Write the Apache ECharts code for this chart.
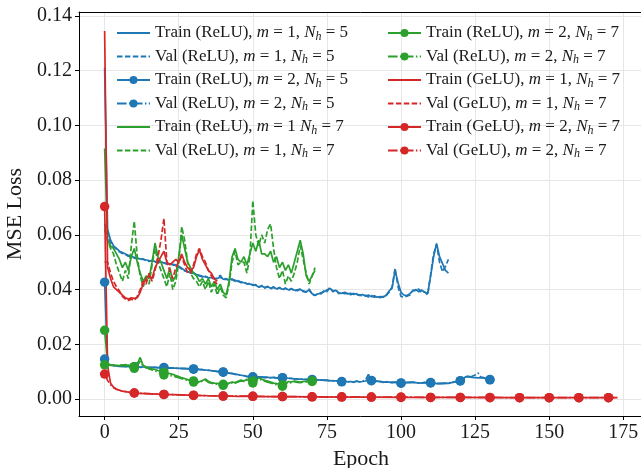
<!DOCTYPE html>
<html>
<head>
<meta charset="utf-8">
<script src="https://cdn.jsdelivr.net/npm/echarts@6/dist/echarts.min.js"></script>
<style>
  html, body { margin: 0; padding: 0; background: #fff; }
  #chart { width: 641px; height: 468px; }
</style>
</head>
<body>
<div id="chart"></div>
<script>
// ---- loss curves, one value per epoch starting at epoch 0 ----
const reluM1N5Train = [0.121,0.062,0.058,0.056,0.055,0.054,0.0535,0.053,0.0525,0.052,0.0518,0.0515,0.0512,0.051,0.0508,0.0506,0.0505,0.0503,0.0502,0.05,0.0498,0.0496,0.0494,0.0492,0.049,0.0485,0.0478,0.047,0.0465,0.0462,0.046,0.0455,0.0452,0.0448,0.0446,0.0444,0.0443,0.0441,0.044,0.0445,0.0438,0.0437,0.0436,0.0438,0.0434,0.043,0.0428,0.0425,0.0422,0.042,0.0418,0.0415,0.041,0.0412,0.0408,0.041,0.0405,0.0408,0.0403,0.0406,0.0401,0.0404,0.0399,0.0402,0.0398,0.0396,0.04,0.0395,0.0392,0.0398,0.0385,0.038,0.0384,0.0388,0.0392,0.0398,0.0404,0.0395,0.0397,0.0388,0.0386,0.039,0.0384,0.0386,0.0382,0.0385,0.0378,0.0382,0.0376,0.038,0.0374,0.0377,0.0372,0.0374,0.0372,0.038,0.0395,0.0405,0.047,0.0425,0.039,0.038,0.0378,0.0385,0.0395,0.04,0.0392,0.0398,0.039,0.0385,0.045,0.052,0.0568,0.052,0.0495,0.047,0.046];
const reluM1N5Val = [0.064,0.06,0.057,0.0555,0.0548,0.0538,0.0532,0.0528,0.0522,0.0519,0.0515,0.0513,0.051,0.0512,0.0505,0.0503,0.0507,0.05,0.0498,0.0502,0.0497,0.0493,0.0495,0.049,0.0487,0.0482,0.0475,0.0468,0.0466,0.0458,0.0462,0.0452,0.045,0.0446,0.0449,0.0442,0.0446,0.0438,0.0442,0.0452,0.0436,0.044,0.0433,0.0437,0.043,0.0433,0.0425,0.0428,0.042,0.0423,0.0415,0.0418,0.0408,0.0415,0.0405,0.0412,0.0402,0.041,0.04,0.0408,0.0398,0.0406,0.0396,0.0404,0.0395,0.0399,0.0402,0.0392,0.039,0.0402,0.0382,0.0378,0.0386,0.0384,0.0395,0.0392,0.0408,0.0392,0.04,0.0385,0.0389,0.0385,0.0387,0.0381,0.0386,0.038,0.0381,0.0376,0.0379,0.0373,0.0378,0.0372,0.0375,0.037,0.0375,0.0378,0.039,0.041,0.0478,0.041,0.0375,0.0372,0.0376,0.038,0.0398,0.0395,0.0402,0.0388,0.0392,0.038,0.0455,0.053,0.0565,0.05,0.0465,0.0485,0.051];

const reluM2N5Train = [0.0427,0.0128,0.0124,0.0122,0.0121,0.012,0.0119,0.0119,0.0118,0.0118,0.0118,0.0117,0.0117,0.0117,0.0116,0.0116,0.0116,0.0116,0.0115,0.0115,0.0115,0.0114,0.0114,0.0113,0.0113,0.0112,0.0112,0.0111,0.0111,0.011,0.011,0.0109,0.0108,0.0107,0.0106,0.0105,0.0104,0.0102,0.0101,0.01,0.0099,0.0097,0.0095,0.0093,0.0091,0.0089,0.0087,0.0085,0.0083,0.0082,0.0081,0.008,0.0081,0.0079,0.008,0.0079,0.0078,0.0079,0.0077,0.0078,0.0078,0.0077,0.0076,0.0075,0.0074,0.0073,0.0073,0.0072,0.0072,0.0071,0.0071,0.007,0.007,0.0069,0.0069,0.0068,0.0067,0.0066,0.0066,0.0065,0.0064,0.0065,0.0063,0.0064,0.0062,0.0065,0.0063,0.0064,0.0066,0.0072,0.0067,0.0065,0.0066,0.0063,0.0062,0.0063,0.0062,0.006,0.0062,0.0061,0.0059,0.0059,0.006,0.0062,0.0061,0.006,0.0058,0.0059,0.006,0.0059,0.006,0.0058,0.0056,0.0057,0.0056,0.0058,0.0057,0.006,0.0062,0.0064,0.0066,0.0075,0.0082,0.0081,0.0079,0.0078,0.0077,0.0078,0.0076,0.0073,0.007];
const reluM2N5Val = [0.0146,0.0127,0.0124,0.0121,0.0121,0.0119,0.012,0.0118,0.0119,0.0117,0.0117,0.0118,0.0116,0.0117,0.0115,0.0116,0.0115,0.0116,0.0114,0.0115,0.0114,0.0115,0.0113,0.0114,0.0112,0.0113,0.0111,0.0112,0.011,0.0111,0.0109,0.011,0.0107,0.0108,0.0105,0.0106,0.0103,0.0103,0.01,0.0101,0.0098,0.0098,0.0094,0.0094,0.009,0.009,0.0086,0.0086,0.0082,0.0083,0.008,0.0081,0.0079,0.0081,0.0078,0.008,0.0077,0.0079,0.0076,0.0079,0.0077,0.0078,0.0075,0.0076,0.0073,0.0074,0.0072,0.0073,0.0071,0.0072,0.007,0.0071,0.0069,0.007,0.0068,0.0069,0.0066,0.0067,0.0065,0.0066,0.0063,0.0066,0.0062,0.0065,0.0061,0.0066,0.0062,0.0066,0.0068,0.009,0.0068,0.0066,0.0064,0.0065,0.0061,0.0064,0.006,0.0062,0.0061,0.0063,0.0058,0.006,0.0061,0.006,0.0062,0.0059,0.0059,0.0058,0.0061,0.0058,0.0059,0.0057,0.0057,0.0056,0.0058,0.0057,0.0059,0.0061,0.0063,0.0065,0.0067,0.0073,0.0084,0.0082,0.0083,0.0088,0.0095,0.008,0.0078,0.0074,0.0071];

const reluM1N7Train = [0.0915,0.058,0.056,0.055,0.053,0.051,0.048,0.05,0.047,0.052,0.055,0.05,0.046,0.043,0.045,0.044,0.05,0.057,0.052,0.05,0.047,0.044,0.048,0.043,0.045,0.052,0.06,0.055,0.05,0.048,0.046,0.045,0.043,0.044,0.042,0.044,0.041,0.043,0.04,0.042,0.039,0.038,0.043,0.052,0.055,0.051,0.05,0.052,0.049,0.053,0.057,0.054,0.058,0.053,0.053,0.052,0.054,0.05,0.052,0.048,0.05,0.047,0.049,0.046,0.05,0.054,0.058,0.053,0.045,0.043,0.045,0.047];
const reluM1N7Val = [0.062,0.058,0.055,0.053,0.049,0.046,0.043,0.047,0.044,0.056,0.065,0.052,0.045,0.041,0.044,0.042,0.049,0.055,0.05,0.047,0.044,0.041,0.046,0.04,0.043,0.05,0.063,0.058,0.05,0.046,0.044,0.043,0.041,0.043,0.04,0.043,0.039,0.042,0.038,0.041,0.038,0.037,0.042,0.05,0.054,0.049,0.05,0.05,0.046,0.052,0.0725,0.06,0.056,0.06,0.057,0.062,0.064,0.055,0.048,0.044,0.047,0.042,0.045,0.043,0.046,0.05,0.056,0.051,0.046,0.042,0.045,0.048];

const reluM2N7Train = [0.0251,0.0128,0.0125,0.0124,0.0123,0.0122,0.0125,0.0121,0.0124,0.012,0.0118,0.0128,0.0152,0.0122,0.0118,0.0113,0.011,0.0108,0.0104,0.0102,0.0098,0.0095,0.0093,0.009,0.0086,0.0082,0.0078,0.0075,0.0071,0.0068,0.0066,0.0064,0.0063,0.0068,0.0073,0.0065,0.006,0.0058,0.0057,0.0055,0.0054,0.0056,0.0058,0.0062,0.006,0.0065,0.0069,0.0066,0.0072,0.0068,0.0066,0.007,0.0078,0.0072,0.0068,0.0066,0.0062,0.0058,0.0056,0.0054,0.0052,0.0058,0.0064,0.0062,0.0066,0.0064,0.0062,0.0064,0.0065,0.0063,0.0066];
const reluM2N7Val = [0.0125,0.0126,0.0123,0.0125,0.0121,0.0124,0.0122,0.0126,0.0121,0.0118,0.0112,0.0122,0.0138,0.0118,0.0115,0.011,0.0106,0.0103,0.0098,0.0093,0.0088,0.0087,0.0086,0.0084,0.0081,0.0078,0.0074,0.0071,0.0068,0.0065,0.0062,0.0061,0.006,0.0066,0.0069,0.0061,0.0058,0.0055,0.0054,0.0052,0.005,0.0053,0.0056,0.0059,0.0058,0.0062,0.0066,0.0064,0.0069,0.0065,0.0059,0.0066,0.0074,0.0069,0.0065,0.0062,0.0059,0.0055,0.0052,0.005,0.0047,0.0055,0.006,0.0059,0.0063,0.0061,0.006,0.0062,0.0063,0.0061,0.0064];

const geluM1N7Train = [0.1345,0.048,0.044,0.041,0.04,0.039,0.038,0.037,0.0365,0.037,0.0368,0.037,0.039,0.042,0.044,0.045,0.044,0.048,0.05,0.052,0.054,0.05,0.049,0.05,0.051,0.05,0.053,0.05,0.048,0.047,0.048,0.052,0.0545,0.051,0.049,0.047,0.046,0.044,0.043];
const geluM1N7Val = [0.05,0.05,0.046,0.043,0.041,0.0395,0.0375,0.0365,0.036,0.0365,0.036,0.0375,0.04,0.043,0.042,0.046,0.043,0.047,0.052,0.058,0.066,0.05,0.047,0.044,0.048,0.05,0.052,0.049,0.046,0.046,0.049,0.053,0.055,0.052,0.05,0.047,0.045,0.043,0.042];

// GeLU, m = 2 run: logged at these epochs
const geluM2N7Epochs = [0,1,2,3,4,5,6,7,8,9,10,12,14,16,18,20,23,26,30,35,40,45,50,55,60,70,80,90,100,110,120,130,140,150,160,170,173];
const geluM2N7Train = [0.0703,0.012,0.0058,0.0043,0.0036,0.0032,0.0029,0.0027,0.0025,0.0023,0.0022,0.0021,0.002,0.0019,0.0018,0.0017,0.0016,0.0015,0.0013,0.0012,0.0011,0.001,0.001,0.0009,0.0009,0.0008,0.0007,0.0007,0.0006,0.0006,0.0006,0.0005,0.0005,0.0005,0.0005,0.0005,0.0005];
const geluM2N7Val = [0.0091,0.0068,0.0052,0.0042,0.0036,0.0032,0.0029,0.0027,0.0025,0.0024,0.0022,0.0021,0.002,0.0019,0.0018,0.0017,0.0016,0.0015,0.0014,0.0012,0.0011,0.0011,0.001,0.0009,0.0009,0.0008,0.0008,0.0007,0.0007,0.0006,0.0006,0.0006,0.0005,0.0005,0.0005,0.0005,0.0005];

// ---- axes ----
const xTicks = [0, 25, 50, 75, 100, 125, 150, 175];
const yTicks = [0, 0.02, 0.04, 0.06, 0.08, 0.10, 0.12, 0.14];

const BLUE = '#1f77b4', GREEN = '#2ca02c', RED = '#d62728';
const SERIF = '"Liberation Serif", "DejaVu Serif", serif';
const DASH = [5.5, 2.4];
const DASHDOT = [9.6, 2.4, 1.5, 2.4];

const byEpoch = arr => arr.map((v, i) => [i, v]);
const zipEpochs = (ep, arr) => arr.map((v, i) => [ep[i], v]);

// run descriptions: kind, activation, m, whether a comma follows m, N_h
const runs = [
  { kind: 'Train', act: 'ReLU', m: 1, comma: true,  nh: 5, color: BLUE,  dash: 'solid', marks: false, data: byEpoch(reluM1N5Train) },
  { kind: 'Val',   act: 'ReLU', m: 1, comma: true,  nh: 5, color: BLUE,  dash: DASH,    marks: false, data: byEpoch(reluM1N5Val) },
  { kind: 'Train', act: 'ReLU', m: 2, comma: true,  nh: 5, color: BLUE,  dash: 'solid', marks: true,  data: byEpoch(reluM2N5Train) },
  { kind: 'Val',   act: 'ReLU', m: 2, comma: true,  nh: 5, color: BLUE,  dash: DASHDOT, marks: true,  data: byEpoch(reluM2N5Val) },
  { kind: 'Train', act: 'ReLU', m: 1, comma: false, nh: 7, color: GREEN, dash: 'solid', marks: false, data: byEpoch(reluM1N7Train) },
  { kind: 'Val',   act: 'ReLU', m: 1, comma: true,  nh: 7, color: GREEN, dash: DASH,    marks: false, data: byEpoch(reluM1N7Val) },
  { kind: 'Train', act: 'ReLU', m: 2, comma: true,  nh: 7, color: GREEN, dash: 'solid', marks: true,  data: byEpoch(reluM2N7Train) },
  { kind: 'Val',   act: 'ReLU', m: 2, comma: true,  nh: 7, color: GREEN, dash: DASHDOT, marks: true,  data: byEpoch(reluM2N7Val) },
  { kind: 'Train', act: 'GeLU', m: 1, comma: true,  nh: 7, color: RED,   dash: 'solid', marks: false, data: byEpoch(geluM1N7Train) },
  { kind: 'Val',   act: 'GeLU', m: 1, comma: true,  nh: 7, color: RED,   dash: DASH,    marks: false, data: byEpoch(geluM1N7Val) },
  { kind: 'Train', act: 'GeLU', m: 2, comma: true,  nh: 7, color: RED,   dash: 'solid', marks: true,  data: zipEpochs(geluM2N7Epochs, geluM2N7Train) },
  { kind: 'Val',   act: 'GeLU', m: 2, comma: true,  nh: 7, color: RED,   dash: DASHDOT, marks: true,  data: zipEpochs(geluM2N7Epochs, geluM2N7Val) }
];

const richLabel = {};
runs.forEach(r => {
  r.name = `${r.kind} (${r.act}), m = ${r.m}${r.comma ? ',' : ''} N_h = ${r.nh}`;
  richLabel[r.name] = `${r.kind} (${r.act}), {i|m} = ${r.m}${r.comma ? ',' : ''} {i|N}{s|h} = ${r.nh}`;
});

const series = runs.map(r => ({
  name: r.name,
  type: 'line',
  data: r.data,
  color: r.color,
  symbol: r.marks ? 'circle' : 'none',
  symbolSize: r.marks ? (v => (v[0] % 10 === 0 ? 9.5 : 0)) : 0,
  showAllSymbol: true,
  lineStyle: { width: 1.7, type: r.dash, color: r.color },
  itemStyle: { color: r.color },
  emphasis: { disabled: true },
  z: 3
}));

const legendBase = {
  orient: 'vertical',
  top: 24,
  padding: 0,
  itemWidth: 33,
  itemHeight: 10,
  itemGap: 5,
  itemTextGap: 12,
  formatter: name => richLabel[name],
  textStyle: {
    fontFamily: SERIF, fontSize: 17, color: '#1a1a1a', lineHeight: 18,
    rich: {
      i: { fontFamily: SERIF, fontSize: 17, fontStyle: 'italic', color: '#1a1a1a' },
      s: { fontFamily: SERIF, fontSize: 12, fontStyle: 'italic', color: '#1a1a1a', padding: [7, 0, 0, 0] }
    }
  }
};
const legendData = list => list.map(r => ({
  name: r.name,
  itemStyle: r.marks ? {} : { opacity: 0 }
}));

const option = {
  animation: false,
  backgroundColor: '#fff',
  grid: { left: 79, top: 12, width: 564, height: 404, containLabel: false, outerBoundsMode: 'none' },
  legend: [
    Object.assign({}, legendBase, { left: 116, data: legendData(runs.slice(0, 6)) }),
    Object.assign({}, legendBase, { left: 387, data: legendData(runs.slice(6)) })
  ],
  xAxis: [{
    type: 'value', min: -8.65, max: 181.65,
    name: 'Epoch', nameLocation: 'middle', nameGap: 30,
    nameTextStyle: { fontFamily: SERIF, fontSize: 22, color: '#1a1a1a' },
    axisLine: { show: true, onZero: false, lineStyle: { color: '#000', width: 1 } },
    axisTick: { show: true, inside: false, length: 4, customValues: xTicks, lineStyle: { color: '#000' } },
    axisLabel: { customValues: xTicks, margin: 7, fontFamily: SERIF, fontSize: 20, color: '#1a1a1a' },
    splitLine: { show: true, lineStyle: { color: '#e6e6e6', width: 1 } }
  }, {
    type: 'value', min: -8.65, max: 181.65, position: 'top',
    axisLine: { show: true, onZero: false, lineStyle: { color: '#000', width: 1 } },
    axisTick: { show: false }, axisLabel: { show: false }, splitLine: { show: false }
  }],
  yAxis: {
    type: 'value', min: -0.0062, max: 0.1414,
    name: 'MSE Loss', nameLocation: 'middle', nameGap: 43,
    nameTextStyle: { fontFamily: SERIF, fontSize: 22, color: '#1a1a1a' },
    axisLine: { show: true, onZero: false, lineStyle: { color: '#000', width: 1 } },
    axisTick: { show: true, inside: false, length: 4, customValues: yTicks, lineStyle: { color: '#000' } },
    axisLabel: { customValues: yTicks, margin: 7, fontFamily: SERIF, fontSize: 20, color: '#1a1a1a',
                 formatter: v => v.toFixed(2) },
    splitLine: { show: true, lineStyle: { color: '#e6e6e6', width: 1 } }
  },
  series: series
};

const chart = echarts.init(document.getElementById('chart'), null, { renderer: 'canvas' });
chart.setOption(option);
</script>
</body>
</html>
